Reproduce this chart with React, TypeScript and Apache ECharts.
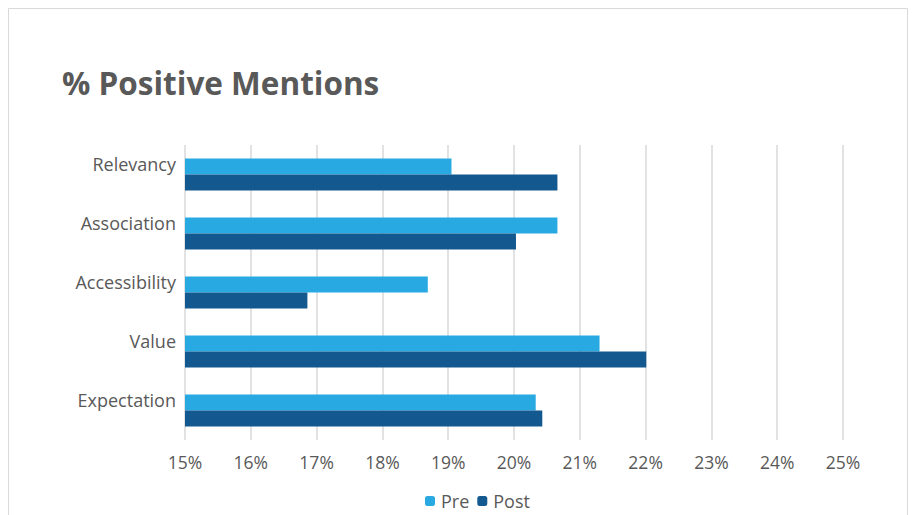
import React, { useEffect, useRef } from "react";
import * as echarts from "echarts";

const categories = ["Relevancy", "Association", "Accessibility", "Value", "Expectation"];
const preValues = [19.05, 20.66, 18.69, 21.3, 20.33];
const postValues = [20.66, 20.03, 16.86, 22.01, 20.43];
const seriesNames = ["Pre", "Post"];
const xMin = 15;
const xMax = 25;

export default function App() {
  const ref = useRef<HTMLDivElement>(null);
  useEffect(() => {
    document.body.style.margin = "0";
    const chart = echarts.init(ref.current!, null, { renderer: "svg" });
    const font = "'Open Sans', 'Noto Sans', sans-serif";
    chart.setOption({
      animation: false,
      backgroundColor: "#fff",
      textStyle: { fontFamily: font },
      title: {
        text: "% Positive Mentions",
        left: 57,
        top: 61,
        textStyle: { fontFamily: font, fontSize: 31.5, fontWeight: "bold", color: "#595959" },
      },
      graphic: [
        {
          type: "rect",
          shape: { x: 8.5, y: 8.5, width: 899, height: 520 },
          style: { fill: "none", stroke: "#D9D9D9", lineWidth: 1 },
          silent: true,
        },
      ],
      legend: {
        data: seriesNames,
        bottom: 0,
        left: 420,
        itemWidth: 10,
        itemHeight: 10,
        itemGap: 8,
        textStyle: { fontFamily: font, fontSize: 18, color: "#595959", padding: [0, 0, 0, 1] },
      },
      grid: { left: 185, right: 71, top: 145, bottom: 75, containLabel: false },
      xAxis: {
        type: "value",
        min: xMin,
        max: xMax,
        interval: 1,
        axisLine: { show: false },
        axisTick: { show: false },
        splitLine: { show: true, lineStyle: { color: "#D9D9D9", width: 1.5 } },
        axisLabel: {
          formatter: (v: number) => `${v}%`,
          fontFamily: font,
          fontSize: 17.5,
          color: "#595959",
          margin: 13,
        },
      },
      yAxis: {
        type: "category",
        data: categories,
        inverse: true,
        axisLine: { show: false },
        axisTick: { show: false },
        splitLine: { show: false },
        axisLabel: {
          fontFamily: font,
          fontSize: 18,
          color: "#595959",
          margin: 9,
          verticalAlign: "bottom",
          lineHeight: 22,
        },
      },
      series: [
        {
          name: seriesNames[0],
          type: "bar",
          data: preValues,
          barWidth: 16,
          barGap: "0%",
          itemStyle: { color: "#29A9E1" },
        },
        {
          name: seriesNames[1],
          type: "bar",
          data: postValues,
          barWidth: 16,
          barGap: "0%",
          itemStyle: { color: "#13598F" },
        },
      ],
    });
    return () => chart.dispose();
  }, []);
  return <div ref={ref} style={{ width: 914, height: 515 }} />;
}
